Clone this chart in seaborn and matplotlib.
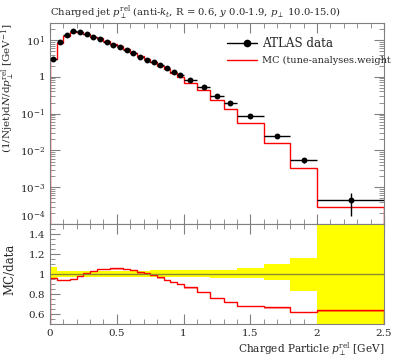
import numpy as np
import matplotlib
matplotlib.use("Agg")
import matplotlib.pyplot as plt
from matplotlib.ticker import MultipleLocator, LogLocator, NullFormatter, FixedLocator
import seaborn as sns

# bin edges of the charged particle prel histogram
edges = [0.0, 0.05, 0.1, 0.15, 0.2, 0.25, 0.3, 0.35, 0.4, 0.45, 0.5,
         0.55, 0.6, 0.65, 0.7, 0.75, 0.8, 0.85, 0.9, 0.95, 1.0,
         1.1, 1.2, 1.3, 1.4, 1.6, 1.8, 2.0, 2.5]

# ATLAS data
data_vals = [3.07, 8.9, 13.5, 17.4, 16.7, 14.8, 11.9, 10.5, 8.9, 7.5,
             6.4, 5.3, 4.3, 3.5, 2.94, 2.48, 2.06, 1.71, 1.39, 1.1,
             0.80, 0.52, 0.31, 0.19, 0.084, 0.024, 0.0055, 0.00045]

# relative data uncertainties (up / down)
err_up = [0.07, 0.03, 0.03, 0.03, 0.03, 0.03, 0.035, 0.035, 0.035, 0.035,
          0.035, 0.035, 0.035, 0.035, 0.035, 0.04, 0.04, 0.04, 0.04, 0.04,
          0.04, 0.04, 0.045, 0.045, 0.065, 0.105, 0.16, 0.55]
err_dn = [0.05, 0.03, 0.03, 0.03, 0.03, 0.03, 0.03, 0.03, 0.03, 0.03,
          0.03, 0.03, 0.03, 0.03, 0.03, 0.03, 0.03, 0.03, 0.03, 0.03,
          0.03, 0.03, 0.035, 0.035, 0.04, 0.06, 0.17, 0.62]

# MC / data ratio
ratio = [0.963, 0.94, 0.94, 0.955, 0.983, 1.01, 1.033, 1.05, 1.05, 1.057,
         1.057, 1.05, 1.04, 1.017, 1.007, 0.993, 0.967, 0.94, 0.92, 0.90,
         0.867, 0.823, 0.765, 0.718, 0.678, 0.667, 0.621, 0.637]

edges = np.array(edges)
data = np.array(data_vals)
rat = np.array(ratio)
mc = data * rat
centers = 0.5 * (edges[1:] + edges[:-1])
halfw = 0.5 * (edges[1:] - edges[:-1])
eu = np.array(err_up)
ed = np.array(err_dn)

sns.set_style("ticks")
plt.rcParams['font.family'] = ['DejaVu Serif']
plt.rcParams['mathtext.fontset'] = 'dejavuserif'

fig = plt.figure(figsize=(3.97, 3.58), dpi=100)
ax = fig.add_axes([0.126, 0.374, 0.841, 0.562])
rax = fig.add_axes([0.126, 0.095, 0.841, 0.279], sharex=ax)

grey = "#808080"

# --- main panel
ax.stairs(mc, edges, baseline=mc * 0.96, fill=True, color=(1, 0, 0, 0.35), lw=0)
ax.stairs(mc, edges, color="red", lw=1.0)
ax.errorbar(centers, data, xerr=halfw, yerr=[data * ed, data * eu],
            fmt="none", ecolor="black", elinewidth=1.0)
sns.scatterplot(x=centers, y=data, ax=ax, color="black", s=18,
                edgecolor="black", linewidth=0, zorder=5, legend=False)
ax.set_yscale("log")
ax.set_ylim(1e-4, 29)
ax.set_xlim(0, 2.5)
ax.set_ylabel(r"$(1/\mathrm{Njet})\mathrm{d}N/\mathrm{d}p_\perp^{\mathrm{rel}}$ [GeV$^{-1}$]",
              loc="top", fontsize=7.5)
ax.set_title(r"Charged jet $p_\perp^{\mathrm{rel}}$ (anti-$k_t$, R = 0.6, $y$ 0.0-1.9, $p_\perp$ 10.0-15.0)",
             loc="left", fontsize=7.2, pad=5)
ax.set_yticks([1e-4, 1e-3, 1e-2, 1e-1, 1, 10])
ax.set_yticklabels([r"$10^{-4}$", r"$10^{-3}$", r"$10^{-2}$", r"$10^{-1}$", "1", r"$10^{1}$"])
ax.get_yticklabels()[0].set_va("bottom")
ax.yaxis.set_minor_locator(LogLocator(base=10, subs=np.arange(2, 10), numticks=10))
ax.yaxis.set_minor_formatter(NullFormatter())
ax.tick_params(labelbottom=False)

# legend drawn by hand
ax.plot([0.53, 0.62], [0.9, 0.9], transform=ax.transAxes, color="black", lw=1.0)
ax.plot([0.59], [0.9], "o", transform=ax.transAxes, color="black", ms=4.5)
ax.text(0.635, 0.9, "ATLAS data", transform=ax.transAxes, va="center", fontsize=8.6)
ax.plot([0.53, 0.62], [0.815, 0.815], transform=ax.transAxes, color="red", lw=1.0)
ax.text(0.635, 0.815, "MC (tune-analyses.weight", transform=ax.transAxes,
        va="center", fontsize=7.0)

# --- ratio panel
band_lo = np.maximum(1 - ed, 0.5)
band_hi = np.minimum(1 + eu, 1.5)
band_hi[-1] = 1.5
band_lo[-1] = 0.5
rax.stairs(band_hi, edges, baseline=band_lo, fill=True, color="#ffff00", lw=0)
rax.axhline(1.0, color="#8a8a30", lw=1.0)
rax.stairs(rat, edges, baseline=rat - 0.012, fill=True, color=(1, 0, 0, 0.35), lw=0)
rax.stairs(rat, edges, color="red", lw=1.0)
rax.set_ylim(0.5, 1.5)
rax.set_xlim(0, 2.5)
rax.yaxis.set_major_locator(FixedLocator([0.6, 0.8, 1.0, 1.2, 1.4]))
rax.set_yticklabels(["0.6", "0.8", "1", "1.2", "1.4"])
rax.yaxis.set_minor_locator(MultipleLocator(0.05))
rax.set_xticks([0, 0.5, 1, 1.5, 2, 2.5])
rax.set_xticklabels(["0", "0.5", "1", "1.5", "2", "2.5"])
rax.xaxis.set_minor_locator(MultipleLocator(0.1))
rax.set_ylabel("MC/data", fontsize=8.5)
rax.set_xlabel(r"Charged Particle $p_\perp^{\mathrm{rel}}$ [GeV]", loc="right", fontsize=7.6,
               labelpad=2)

for a in (ax, rax):
    for s in a.spines.values():
        s.set_color(grey)
        s.set_linewidth(0.8)
    a.tick_params(which="both", direction="in", top=True, right=True,
                  color=grey, labelsize=7.5)
    a.tick_params(which="major", length=7, width=0.8)
    a.tick_params(which="minor", length=3.5, width=0.6)
ax.yaxis.set_label_coords(-0.1, 1.0)
rax.yaxis.set_label_coords(-0.1, 0.55)

fig.savefig("out.png", dpi=100)
